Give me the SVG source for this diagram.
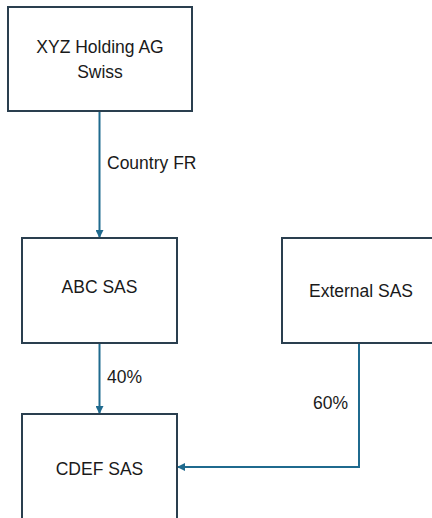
<svg xmlns="http://www.w3.org/2000/svg" width="432" height="518" viewBox="0 0 432 518">
<style>
.box{fill:#fff;stroke:#2a3f4f;stroke-width:2}
.t{font-family:"Liberation Sans",Arial,sans-serif;font-size:17.5px;fill:#1a1a1a}
.c{fill:none;stroke:#1f6a8e;stroke-width:2}
</style>
<defs>
<marker id="ah" markerWidth="8" markerHeight="8" refX="7" refY="4" orient="auto" markerUnits="userSpaceOnUse">
<path d="M0,0 L8,4 L0,8 Z" fill="#1f6a8e"/>
</marker>
</defs>
<rect width="432" height="518" fill="#fff"/>
<g id="connectors">
<path class="c" d="M99.5,112 V237" marker-end="url(#ah)"/>
<path class="c" d="M99.5,344 V413" marker-end="url(#ah)"/>
<path class="c" d="M359,344 V467 H178" marker-end="url(#ah)"/>
<text class="t" x="107" y="169">Country FR</text>
<text class="t" x="107" y="383">40%</text>
<text class="t" x="313" y="409">60%</text>
</g>
<g id="xyz">
<rect class="box" x="8" y="7" width="184" height="104"/>
<text class="t" x="100" y="53" text-anchor="middle">XYZ Holding AG</text>
<text class="t" x="100" y="78" text-anchor="middle">Swiss</text>
</g>
<g id="abc">
<rect class="box" x="22" y="238" width="155" height="105"/>
<text class="t" x="99.5" y="293" text-anchor="middle">ABC SAS</text>
</g>
<g id="external">
<rect class="box" x="282" y="238" width="160" height="105"/>
<text class="t" x="361" y="297" text-anchor="middle">External SAS</text>
</g>
<g id="cdef">
<rect class="box" x="22" y="414" width="155" height="120"/>
<text class="t" x="99.5" y="475" text-anchor="middle">CDEF SAS</text>
</g>
</svg>
